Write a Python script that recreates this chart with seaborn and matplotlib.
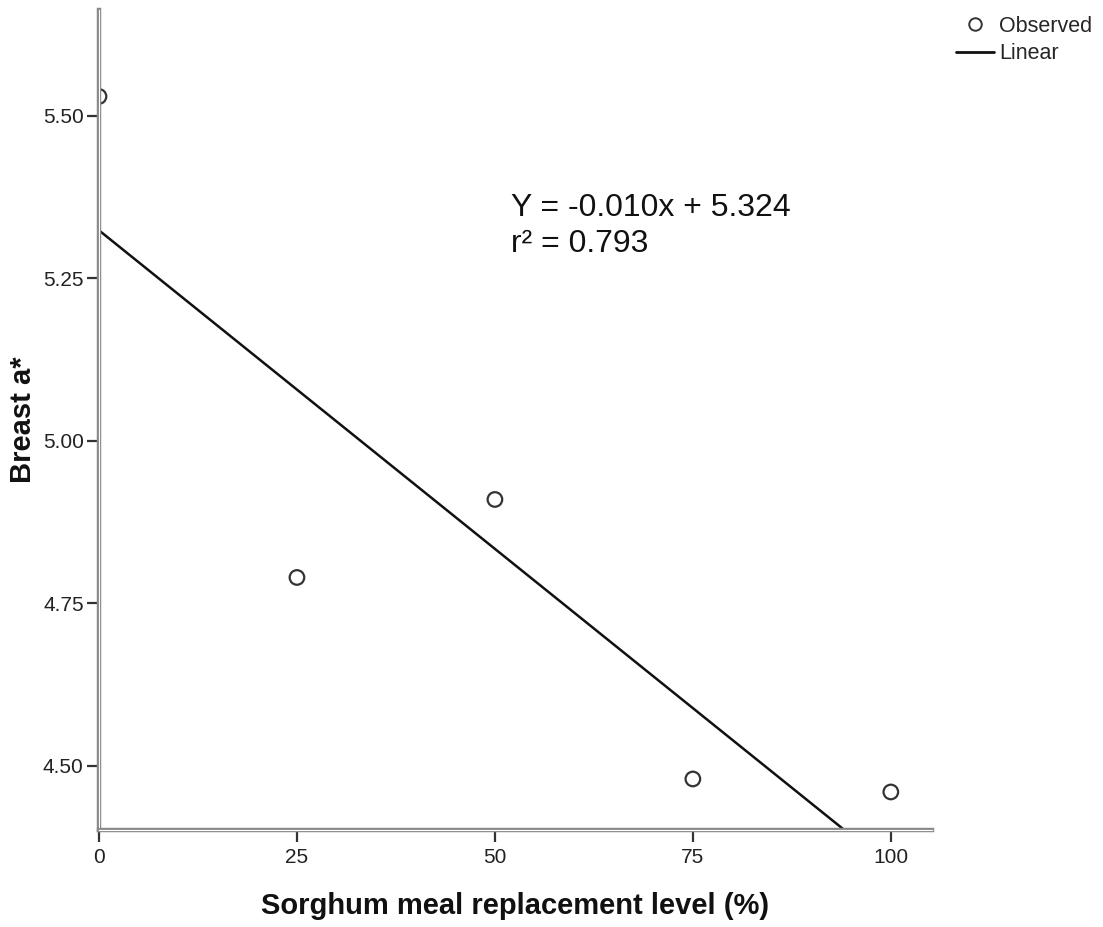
import matplotlib
matplotlib.use("Agg")
import matplotlib.pyplot as plt
import matplotlib.patheffects as pe
from matplotlib.lines import Line2D
import seaborn as sns
import pandas as pd

# Data
levels = [0, 25, 50, 75, 100]
breast_a = [5.53, 4.79, 4.91, 4.48, 4.46]
x_ticks = [0, 25, 50, 75, 100]
y_ticks = [4.50, 4.75, 5.00, 5.25, 5.50]
equation = "Y = -0.010x + 5.324"
r2_text = "r² = 0.793"
x_label = "Sorghum meal replacement level (%)"
y_label = "Breast a*"

df = pd.DataFrame({"level": levels, "a": breast_a})

sns.set_theme(style="white")
plt.rcParams["font.family"] = ["Liberation Sans", "DejaVu Sans"]

W, H = 1103, 927
fig = plt.figure(figsize=(W / 100, H / 100), dpi=100)
ax = fig.add_axes([99 / W, 1 - 830 / H, (932 - 99) / W, (830 - 10) / H])

ax.set_xlim(0, 105.2)
ax.set_ylim(4.4015, 5.663)

sns.regplot(data=df, x="level", y="a", ax=ax, scatter=False, ci=None,
            truncate=False, line_kws=dict(color="#111111", lw=1.8))
sns.scatterplot(data=df, x="level", y="a", ax=ax, s=110, marker="o",
                facecolor="none", edgecolor="#333333", linewidth=1.6, zorder=3)

ax.set_xlim(0, 105.2)
ax.set_ylim(4.4015, 5.663)
ax.set_xticks(x_ticks)
ax.set_xticklabels([str(t) for t in x_ticks])
ax.set_yticks(y_ticks)
ax.set_yticklabels([f"{t:.2f}" for t in y_ticks])
ax.tick_params(axis="both", direction="out", length=8.5, width=1.6,
               color="#333333", labelsize=15, labelcolor="#222222", pad=2.5,
               bottom=True, left=True)
ax.tick_params(axis="x", pad=4.5)

for side in ["top", "right"]:
    ax.spines[side].set_visible(False)
for side in ["left", "bottom"]:
    sp = ax.spines[side]
    sp.set_color("white")
    sp.set_linewidth(0.8)
    sp.set_path_effects([pe.Stroke(linewidth=3.2, foreground="#8a8a8a"), pe.Normal()])
    sp.set_zorder(5)

ax.set_xlabel(x_label, fontsize=21, fontweight="bold", labelpad=18, color="#111111")
ax.set_ylabel(y_label, fontsize=21, fontweight="bold", labelpad=4, color="#111111")

fig.text(511 / W, 1 - 208 / H, equation, fontsize=23, va="center", ha="left", color="#111111")
fig.text(511 / W, 1 - 244 / H, r2_text, fontsize=23, va="center", ha="left", color="#111111")

handles = [
    Line2D([], [], marker="o", linestyle="none", markerfacecolor="none",
           markeredgecolor="#333333", markeredgewidth=1.4, markersize=9),
    Line2D([], [], color="#111111", lw=2),
]
fig.legend(handles, ["Observed", "Linear"], loc="upper left",
           bbox_to_anchor=(956 / W, 1 - 16 / H), frameon=False, fontsize=15.5,
           handlelength=1.75, handletextpad=0.25, labelspacing=0.3,
           borderaxespad=0, borderpad=0)

fig.savefig("out.png", dpi=100, facecolor="white")
